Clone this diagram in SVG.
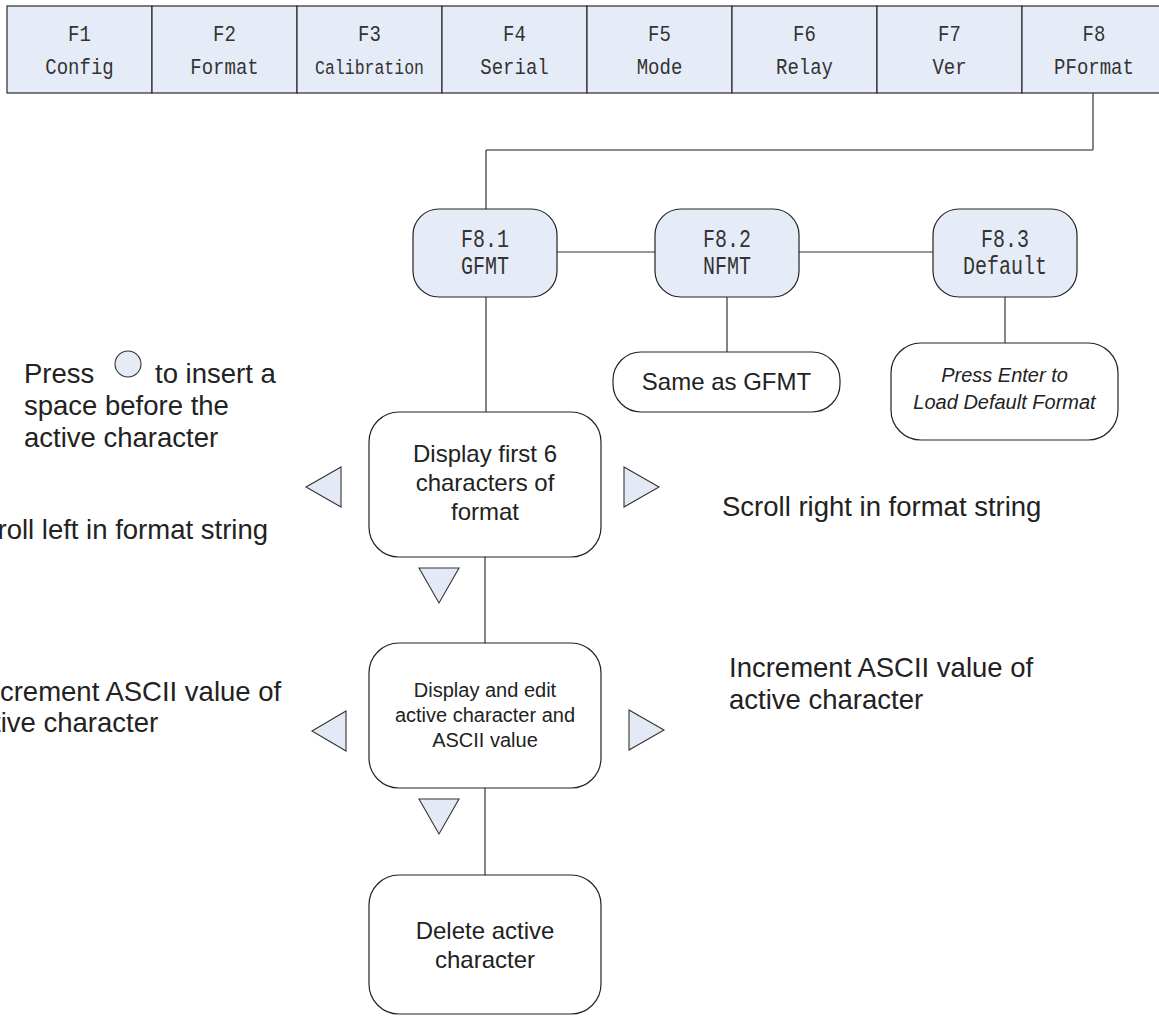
<svg xmlns="http://www.w3.org/2000/svg" width="1159" height="1016" viewBox="0 0 1159 1016">
<style>
.bg{fill:#ffffff}
.cell{fill:#E6ECF7;stroke:#2a2a2a;stroke-width:1.2}
.mono{font-family:"Liberation Mono","DejaVu Sans Mono",monospace;fill:#333;text-anchor:middle}
.m19{font-size:19px}
.m20{font-size:20px}
.blue{fill:#E6ECF7;stroke:#222;stroke-width:1.2}
.white{fill:#ffffff;stroke:#222;stroke-width:1.2}
.sans{font-family:"Liberation Sans",Arial,sans-serif;fill:#222}
.c{text-anchor:middle}
.s24{font-size:24px}
.s20{font-size:20px}
.s27{font-size:27.5px}
.it{font-style:italic}
.tri{fill:#E4EAF5;stroke:#333;stroke-width:1.1;stroke-linejoin:miter}
.line{stroke:#333;stroke-width:1.2;fill:none}
</style>
<rect class="bg" x="0" y="0" width="1159" height="1016"/>

<g id="menu-bar">
  <g id="F1"><rect class="cell" x="7" y="6" width="145" height="87"/><text class="mono m19" transform="translate(79.5 41) scale(1 1.2)">F1</text><text class="mono m19" transform="translate(79.5 74) scale(1 1.2)">Config</text></g>
  <g id="F2"><rect class="cell" x="152" y="6" width="145" height="87"/><text class="mono m19" transform="translate(224.5 41) scale(1 1.2)">F2</text><text class="mono m19" transform="translate(224.5 74) scale(1 1.2)">Format</text></g>
  <g id="F3"><rect class="cell" x="297" y="6" width="145" height="87"/><text class="mono m19" transform="translate(369.5 41) scale(1 1.2)">F3</text><text class="mono" style="font-size:16.5px" transform="translate(369.5 74) scale(1 1.2)">Calibration</text></g>
  <g id="F4"><rect class="cell" x="442" y="6" width="145" height="87"/><text class="mono m19" transform="translate(514.5 41) scale(1 1.2)">F4</text><text class="mono m19" transform="translate(514.5 74) scale(1 1.2)">Serial</text></g>
  <g id="F5"><rect class="cell" x="587" y="6" width="145" height="87"/><text class="mono m19" transform="translate(659.5 41) scale(1 1.2)">F5</text><text class="mono m19" transform="translate(659.5 74) scale(1 1.2)">Mode</text></g>
  <g id="F6"><rect class="cell" x="732" y="6" width="145" height="87"/><text class="mono m19" transform="translate(804.5 41) scale(1 1.2)">F6</text><text class="mono m19" transform="translate(804.5 74) scale(1 1.2)">Relay</text></g>
  <g id="F7"><rect class="cell" x="877" y="6" width="145" height="87"/><text class="mono m19" transform="translate(949.5 41) scale(1 1.2)">F7</text><text class="mono m19" transform="translate(949.5 74) scale(1 1.2)">Ver</text></g>
  <g id="F8"><rect class="cell" x="1022" y="6" width="145" height="87"/><text class="mono m19" transform="translate(1094 41) scale(1 1.2)">F8</text><text class="mono m19" transform="translate(1094 74) scale(1 1.2)">PFormat</text></g>
</g>

<g id="connectors">
  <polyline class="line" points="1093,93 1093,150"/>
  <polyline points="1093,150 486,150" style="fill:none;stroke:#666;stroke-width:1.6"/>
  <polyline class="line" points="486,150 486,209"/>
  <line class="line" x1="557" y1="252" x2="655" y2="252"/>
  <line class="line" x1="799" y1="252" x2="933" y2="252"/>
  <line class="line" x1="486" y1="297" x2="486" y2="412"/>
  <line class="line" x1="727" y1="297" x2="727" y2="353"/>
  <line class="line" x1="1005" y1="297" x2="1005" y2="343"/>
  <line class="line" x1="485" y1="557" x2="485" y2="643"/>
  <line class="line" x1="485" y1="788" x2="485" y2="875"/>
</g>

<g id="F8-1"><rect class="blue" x="413" y="209" width="144" height="88" rx="26"/><text class="mono m20" transform="translate(485 247) scale(1 1.3)">F8.1</text><text class="mono m20" transform="translate(485 274) scale(1 1.3)">GFMT</text></g>
<g id="F8-2"><rect class="blue" x="655" y="209" width="144" height="88" rx="26"/><text class="mono m20" transform="translate(727 247) scale(1 1.3)">F8.2</text><text class="mono m20" transform="translate(727 274) scale(1 1.3)">NFMT</text></g>
<g id="F8-3"><rect class="blue" x="933" y="209" width="144" height="88" rx="26"/><text class="mono m20" transform="translate(1005 247) scale(1 1.3)">F8.3</text><text class="mono m20" transform="translate(1005 274) scale(1 1.3)">Default</text></g>

<g id="same-as-gfmt"><rect class="white" x="613" y="352" width="227" height="60" rx="28"/><text class="sans s24 c" x="726.5" y="390">Same as GFMT</text></g>
<g id="press-enter"><rect class="white" x="891" y="343" width="227" height="97" rx="30"/><text class="sans s20 c it" x="1004.5" y="382">Press Enter to</text><text class="sans s20 c it" x="1004.5" y="409">Load Default Format</text></g>

<g id="display-first"><rect class="white" x="369" y="412" width="232" height="145" rx="30"/><text class="sans s24 c" x="485" y="462">Display first 6</text><text class="sans s24 c" x="485" y="491">characters of</text><text class="sans s24 c" x="485" y="520">format</text></g>
<g id="display-edit"><rect class="white" x="369" y="643" width="232" height="145" rx="30"/><text class="sans s20 c" x="485" y="697">Display and edit</text><text class="sans s20 c" x="485" y="722">active character and</text><text class="sans s20 c" x="485" y="747">ASCII value</text></g>
<g id="delete-char"><rect class="white" x="369" y="875" width="232" height="139" rx="30"/><text class="sans s24 c" x="485" y="939">Delete active</text><text class="sans s24 c" x="485" y="968">character</text></g>

<g id="keys">
  <polygon class="tri" points="306,487 341,467 341,507"/>
  <polygon class="tri" points="624,467 624,507 659,487"/>
  <polygon class="tri" points="419,568 459,568 439,603"/>
  <polygon class="tri" points="312,731 346,711 346,751"/>
  <polygon class="tri" points="629,710 629,750 664,730"/>
  <polygon class="tri" points="419,799 459,799 439,834"/>
  <circle cx="128" cy="364" r="13" style="fill:#E6ECF7;stroke:#333;stroke-width:1.1"/>
</g>

<g id="notes">
  <text class="sans s27" x="24" y="383">Press</text>
  <text class="sans s27" x="155" y="383">to insert a</text>
  <text class="sans s27" x="24" y="415">space before the</text>
  <text class="sans s27" x="24" y="447">active character</text>
  <text class="sans s27" x="268" y="539" text-anchor="end">Scroll left in format string</text>
  <text class="sans s27" x="-23" y="701">Increment ASCII value of</text>
  <text class="sans s27" x="-36" y="732">active character</text>
  <text class="sans s27" x="722" y="516">Scroll right in format string</text>
  <text class="sans s27" x="729" y="677">Increment ASCII value of</text>
  <text class="sans s27" x="729" y="709">active character</text>
</g>
</svg>
